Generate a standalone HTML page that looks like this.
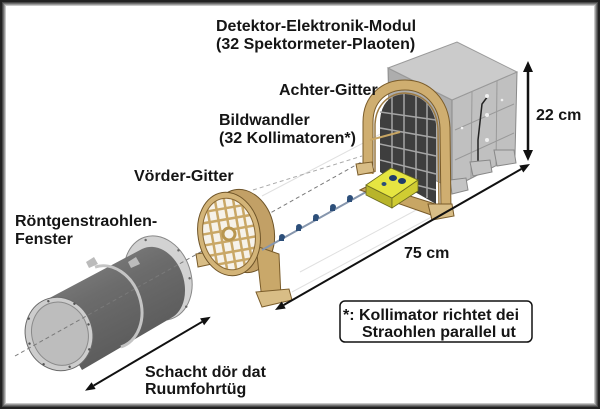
<!DOCTYPE html>
<html><head><meta charset="utf-8"><style>
html,body{margin:0;padding:0;background:#fff;}
body{width:600px;height:409px;overflow:hidden;}
svg{display:block;}
text{font-family:"Liberation Sans",Arial,sans-serif;font-weight:bold;font-size:16px;fill:#151515;}
</style></head><body>
<svg width="600" height="409" viewBox="0 0 600 409" xmlns="http://www.w3.org/2000/svg">
<defs>
<clipPath id="vg"><ellipse cx="0" cy="0" rx="26" ry="36"/></clipPath>
<linearGradient id="body" x1="0" y1="0" x2="0.6" y2="1">
<stop offset="0" stop-color="#8a8a8a"/><stop offset="0.45" stop-color="#6c6c6c"/><stop offset="1" stop-color="#575757"/>
</linearGradient>
</defs>
<!-- frame -->
<rect x="0" y="0" width="600" height="409" fill="#222"/>
<rect x="2" y="2" width="596" height="405" fill="#484848"/>
<rect x="3" y="3" width="594" height="403" fill="#6e6e6e"/>
<rect x="4" y="4" width="592" height="401" fill="#999"/>
<rect x="5" y="5" width="590" height="399" fill="#c8c8c8"/>
<rect x="6" y="6" width="588" height="397" fill="#fff"/>

<!-- faint guide lines -->
<g stroke="#e0e0e0" stroke-width="1" fill="none">
<line x1="262" y1="196" x2="392" y2="128"/>
<line x1="292" y1="292" x2="452" y2="206"/>
<line x1="300" y1="272" x2="420" y2="208"/>
</g>

<!-- cylinder -->
<g transform="translate(158,278) rotate(-18)">
<ellipse cx="0" cy="0" rx="33" ry="43" fill="#d2d2d2" stroke="#888" stroke-width="1"/>
<g fill="#666">
<circle cx="0" cy="-40" r="1.2"/><circle cx="28" cy="-20" r="1.2"/><circle cx="30" cy="10" r="1.2"/><circle cx="18" cy="36" r="1.2"/>
</g>
</g>
<path d="M42,302 L142,249 A27,37 -18 0 1 171,318 L82,370 Z" fill="url(#body)"/>
<g transform="translate(108,307) rotate(-18)">
<path d="M0,-42 A33,42 0 0 1 0,42" fill="none" stroke="#c4c4c4" stroke-width="3"/>
</g>
<polygon points="86,262 94,257 98,264 89,268" fill="#bbb"/>
<polygon points="128,262 136,257 140,264 131,268" fill="#bbb"/>
<g transform="translate(59,334) rotate(-18)">
<ellipse cx="0" cy="0" rx="33.5" ry="37" fill="#cdcdcd" stroke="#6a6a6a" stroke-width="1"/>
<ellipse cx="1" cy="0" rx="28" ry="32" fill="#bdbdbd" stroke="#8a8a8a" stroke-width="1"/>
<g fill="#555">
<circle cx="0" cy="-34.5" r="1.2"/><circle cx="24" cy="-24" r="1.2"/><circle cx="31" cy="0" r="1.2"/>
<circle cx="24" cy="24" r="1.2"/><circle cx="0" cy="34.5" r="1.2"/><circle cx="-24" cy="24" r="1.2"/>
<circle cx="-31" cy="0" r="1.2"/><circle cx="-24" cy="-24" r="1.2"/>
</g>
</g>
<!-- axis dashed -->
<line x1="15" y1="356" x2="372" y2="156" stroke="#7a7a7a" stroke-width="1" stroke-dasharray="4,3"/>
<line x1="253" y1="190" x2="362" y2="156" stroke="#aaa" stroke-width="1" stroke-dasharray="4,3"/>

<!-- Vörder-Gitter -->
<g transform="translate(243,231) rotate(-12)">
<ellipse cx="0" cy="0" rx="31" ry="42" fill="#c2a066" stroke="#6e5428" stroke-width="1"/>
</g>
<polygon points="256,246 279,254 281,298 262,300" fill="#c9a86a" stroke="#7a5c2a" stroke-width="1"/>
<polygon points="256,292 289,289 292,300 262,307" fill="#d8bd86" stroke="#7a5c2a" stroke-width="1"/>
<polygon points="196,254 210,252 212,264 198,267" fill="#d8bd86" stroke="#7a5c2a" stroke-width="1"/>
<g transform="translate(229,234) rotate(-10)">
<ellipse cx="0" cy="0" rx="31" ry="42" fill="#d3b478" stroke="#6e5428" stroke-width="1"/>
<ellipse cx="0" cy="0" rx="26" ry="36" fill="#f6f2ea"/>
<g clip-path="url(#vg)" stroke="#c9a766" stroke-width="2.5">
<line x1="-17" y1="-40" x2="-17" y2="40"/><line x1="-8" y1="-40" x2="-8" y2="40"/>
<line x1="1" y1="-40" x2="1" y2="40"/><line x1="10" y1="-40" x2="10" y2="40"/><line x1="18" y1="-40" x2="18" y2="40"/>
<line x1="-30" y1="-26" x2="30" y2="-26"/><line x1="-30" y1="-15" x2="30" y2="-15"/>
<line x1="-30" y1="-4" x2="30" y2="-4"/><line x1="-30" y1="7" x2="30" y2="7"/>
<line x1="-30" y1="18" x2="30" y2="18"/><line x1="-30" y1="28" x2="30" y2="28"/>
</g>
<circle cx="0" cy="0" r="6" fill="#f6f2ea" stroke="#b8964f" stroke-width="3"/>
<ellipse cx="0" cy="0" rx="26" ry="36" fill="none" stroke="#8a6a36" stroke-width="1"/>
</g>

<!-- collimator rod -->
<line x1="262" y1="250" x2="366" y2="192" stroke="#8696ad" stroke-width="2"/>
<g fill="#2d4f7a">
<circle cx="282" cy="237" r="3"/><rect x="279" y="238" width="5" height="3"/>
<circle cx="299" cy="227" r="3"/><rect x="296" y="228" width="5" height="3"/>
<circle cx="316" cy="217" r="3"/><rect x="313" y="218" width="5" height="3"/>
<circle cx="333" cy="207" r="3"/><rect x="330" y="208" width="5" height="3"/>
<circle cx="350" cy="198" r="3"/><rect x="347" y="199" width="5" height="3"/>
</g>

<!-- cube -->
<polygon points="388,68 452,100 452,188 390,160" fill="#adadad" stroke="#8a8a8a" stroke-width="1"/>
<polygon points="452,100 517,72 515,156 452,188" fill="#c0c0c0" stroke="#8a8a8a" stroke-width="1"/>
<polygon points="388,68 457,42 517,72 452,100" fill="#cbcbcb" stroke="#9a9a9a" stroke-width="1"/>
<g stroke="#999" stroke-width="1" fill="none">
<line x1="472" y1="92" x2="471" y2="178"/>
<line x1="497" y1="81" x2="496" y2="166"/>
<line x1="455" y1="130" x2="514" y2="104"/>
<line x1="455" y1="160" x2="514" y2="133"/>
</g>
<polyline points="488,96 482,104 478,140 478,172" fill="none" stroke="#222" stroke-width="1.5"/>
<g fill="#f0f0f0">
<circle cx="487" cy="96" r="2"/><circle cx="487" cy="115" r="2"/><circle cx="487" cy="140" r="2"/><circle cx="487" cy="162" r="2"/>
<circle cx="502" cy="100" r="1.3"/><circle cx="462" cy="128" r="1.3"/>
</g>
<polygon points="494,150 514,150 516,163 497,166" fill="#c4c4c4" stroke="#888" stroke-width="1"/>
<polygon points="470,162 490,160 492,172 473,176" fill="#c4c4c4" stroke="#888" stroke-width="1"/>
<polygon points="450,180 466,178 468,190 452,194" fill="#c4c4c4" stroke="#888" stroke-width="1"/>

<!-- Achter-Gitter -->
<path d="M380,172 L380,120 Q382,95 405,94 Q431,96 436,124 L436,204 Z" fill="#3e3e3e"/>
<g stroke="#a5a5a5" stroke-width="1.5">
<line x1="392" y1="96" x2="392" y2="180"/><line x1="404" y1="94" x2="404" y2="186"/>
<line x1="416" y1="95" x2="416" y2="192"/><line x1="427" y1="102" x2="427" y2="198"/>
<line x1="380" y1="112" x2="436" y2="120"/><line x1="380" y1="128" x2="436" y2="138"/>
<line x1="380" y1="144" x2="436" y2="156"/><line x1="380" y1="160" x2="436" y2="174"/>
<line x1="380" y1="176" x2="436" y2="190"/>
</g>
<path d="M368,174 L368,122 C368,98 385,85 405,85 C427,85 444,102 445,128 L446,212" fill="none" stroke="#7a5c2a" stroke-width="11"/>
<path d="M368,174 L368,122 C368,98 385,85 405,85 C427,85 444,102 445,128 L446,212" fill="none" stroke="#cfae70" stroke-width="9"/>
<path d="M375,172 L375,124 C376,104 390,93 405,93 C423,94 437,106 438,130 L439,208" fill="none" stroke="#9c7a42" stroke-width="1.5"/>
<line x1="370" y1="140" x2="400" y2="132" stroke="#c8a664" stroke-width="2"/>
<polygon points="356,164 372,162 374,172 358,175" fill="#d8bd86" stroke="#7a5c2a" stroke-width="1"/>
<polygon points="360,190 372,184 448,208 437,217" fill="#c8a664" stroke="#7a5c2a" stroke-width="1"/>
<polygon points="428,204 452,204 454,216 432,220" fill="#d8bd86" stroke="#7a5c2a" stroke-width="1"/>

<!-- yellow box -->
<polygon points="366,185 366,195 392,208 392,198" fill="#b8b42a" stroke="#6a6a20" stroke-width="0.8"/>
<polygon points="392,198 392,208 418,191 418,180" fill="#d0cc32" stroke="#6a6a20" stroke-width="0.8"/>
<polygon points="366,185 391,168 418,180 392,198" fill="#e6e541" stroke="#6a6a20" stroke-width="0.8"/>
<ellipse cx="393" cy="178" rx="4" ry="3" fill="#1f3b6b"/>
<ellipse cx="402" cy="181" rx="4" ry="3" fill="#1f3b6b"/>
<ellipse cx="384" cy="184" rx="2.5" ry="2" fill="#2d4f7a"/>

<!-- arrows -->
<line x1="283.7" y1="305" x2="521.3" y2="169" stroke="#111" stroke-width="2"/>
<polygon points="530,164 523.3,172.5 519.3,165.5" fill="#111"/>
<polygon points="275,310 285.7,308.5 281.7,301.5" fill="#111"/>
<line x1="528" y1="71" x2="528" y2="151" stroke="#111" stroke-width="2.5"/>
<polygon points="528,61 523,72 533,72" fill="#111"/>
<polygon points="528,161 523,150 533,150" fill="#111"/>
<line x1="93.6" y1="385.6" x2="202.1" y2="321.8" stroke="#111" stroke-width="2"/>
<polygon points="210.7,316.7 204.1,325.2 200.1,318.4" fill="#111"/>
<polygon points="85,390.7 95.6,389 91.6,382.2" fill="#111"/>

<!-- note box -->
<rect x="340" y="301" width="192" height="41" rx="5" ry="5" fill="#fff" stroke="#111" stroke-width="1.5"/>

<!-- labels -->
<text x="216" y="31">Detektor-Elektronik-Modul</text>
<text x="216" y="49">(32 Spektormeter-Plaoten)</text>
<text x="279" y="95">Achter-Gitter</text>
<text x="219" y="125">Bildwandler</text>
<text x="219" y="143">(32 Kollimatoren*)</text>
<text x="134" y="181">Vörder-Gitter</text>
<text x="15" y="226">Röntgenstraohlen-</text>
<text x="15" y="244">Fenster</text>
<text x="536" y="120">22 cm</text>
<text x="404" y="258">75 cm</text>
<text x="343" y="320">*: Kollimator richtet dei</text>
<text x="362" y="337">Straohlen parallel ut</text>
<text x="145" y="377">Schacht dör dat</text>
<text x="145" y="394">Ruumfohrtüg</text>
</svg>
</body></html>
